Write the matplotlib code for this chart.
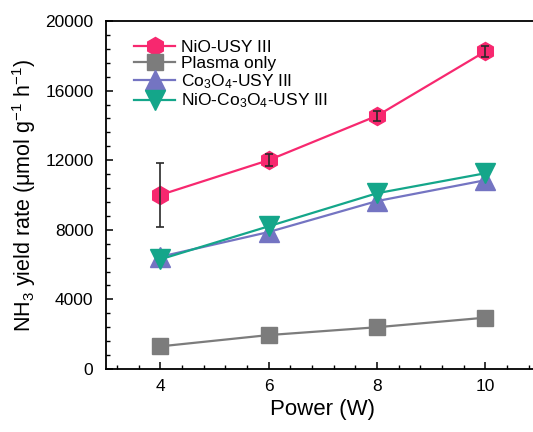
import matplotlib
matplotlib.use("Agg")
import matplotlib.pyplot as plt
from matplotlib.ticker import MultipleLocator

plt.rcParams['font.family'] = ['Liberation Sans', 'DejaVu Sans']
plt.rcParams['mathtext.fontset'] = 'custom'
plt.rcParams['mathtext.rm'] = 'Liberation Sans'
plt.rcParams['mathtext.it'] = 'Liberation Sans:italic'
plt.rcParams['mathtext.bf'] = 'Liberation Sans:bold'

power = [4, 6, 8, 10]
nio_usy = [10000, 12000, 14550, 18250]
nio_usy_err = [1830, 330, 280, 330]
plasma_only = [1300, 1950, 2400, 2950]
co3o4_usy = [6450, 7870, 9650, 10850]
nio_co3o4_usy = [6300, 8200, 10100, 11250]

labels = ['NiO-USY III', 'Plasma only', 'Co$_3$O$_4$-USY III', 'NiO-Co$_3$O$_4$-USY III']

fig = plt.figure(figsize=(5.33, 4.32), dpi=100)
ax = fig.add_axes([106/533, 63/432, 433.5/533, 348/432])

ax.plot(power, nio_usy, color='#F7286F', marker='h', markersize=13, lw=1.6, label=labels[0], zorder=3)
ax.errorbar(power, nio_usy, yerr=nio_usy_err, fmt='none', ecolor='#2a2a2a', elinewidth=1.2,
            capsize=3, capthick=1.2, zorder=4)
ax.plot(power, plasma_only, color='#7C7C7C', marker='s', markersize=11.5, lw=1.6, label=labels[1], zorder=3)
ax.plot(power, co3o4_usy, color='#7474C2', marker='^', markersize=14, lw=1.6, label=labels[2], zorder=3)
ax.plot(power, nio_co3o4_usy, color='#14A68A', marker='v', markersize=14, lw=1.6, label=labels[3], zorder=3)

ax.set_xlim(3, 11)
ax.set_ylim(0, 20000)
ax.xaxis.set_major_locator(MultipleLocator(2))
ax.xaxis.set_minor_locator(MultipleLocator(0.4))
ax.yaxis.set_major_locator(MultipleLocator(4000))
ax.yaxis.set_minor_locator(MultipleLocator(800))
ax.tick_params(which='both', direction='in', top=False, right=False, labelsize=12.5)
ax.tick_params(axis='y', which='major', pad=9)
ax.tick_params(axis='x', which='major', pad=7)
ax.tick_params(which='major', length=5, width=1.1)
ax.tick_params(which='minor', length=3, width=1.0)
for s in ax.spines.values():
    s.set_linewidth(1.3)

ax.set_xlabel('Power (W)', fontsize=16, labelpad=4)
ax.set_ylabel('NH$_3$ yield rate (\u03bcmol g$^{-1}$ h$^{-1}$)', fontsize=15.5, labelpad=5)

ax.legend(loc='upper left', bbox_to_anchor=(0.04, 0.975), frameon=False, fontsize=12.5,
          handlelength=2.4, handletextpad=0.3, labelspacing=0.05, borderaxespad=0.2)

fig.savefig('out.png', dpi=100)
